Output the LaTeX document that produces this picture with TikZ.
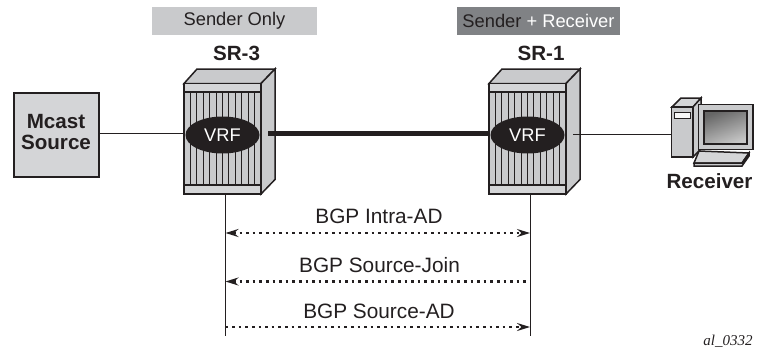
\documentclass[tikz,border=0pt]{standalone}
\usepackage{fontspec}
\setmainfont{Liberation Sans}
\newfontfamily\timesfont{Liberation Serif}
\usetikzlibrary{arrows.meta,shapes.geometric}
\definecolor{ink}{HTML}{231F20}
\definecolor{panel}{HTML}{C9CACC}
\definecolor{bandgray}{HTML}{D4D5D7}
\definecolor{tagdark}{HTML}{808285}
\tikzset{
  x=1pt,y=-1pt,
  every node/.style={text=ink,inner sep=0pt,outer sep=0pt},
  edgeline/.style={draw=ink,line width=1.5pt,line join=miter,fill=panel},
  thinlink/.style={draw=ink,line width=0.9pt},
  heavylink/.style={draw=ink,line width=5pt},
  msglink/.style={draw=ink,line width=2.7pt,dash pattern=on 2.7pt off 3.9pt},
  msgtip/.tip={Stealth[length=13pt,width=8pt,inset=4.5pt,color=ink]},
  tagbox/.style={minimum height=28pt,anchor=north west,font=\fontsize{18.3}{20}\selectfont},
  routername/.style={font=\bfseries\fontsize{20.6}{22}\selectfont},
  msglabel/.style={font=\fontsize{20.8}{22}\selectfont},
  vrfnode/.style={ellipse,fill=ink,minimum width=74pt,minimum height=37pt,text=white,font=\fontsize{18.3}{20}\selectfont},
  frontpanel/.style={edgeline,rectangle,anchor=north west,minimum width=77pt,minimum height=110.5pt},
  router/.pic={
    \path[edgeline] (0,0) -- (13,-14.5) -- (91,-14.5) -- (77,0) -- cycle;
    \path[edgeline] (77,0) -- (91,-14.5) -- (91,96) -- (77,110.5) -- cycle;
    \node[frontpanel] (front) at (0,0) {};
    \path[edgeline,fill=bandgray,line width=1.2pt] (0,0) rectangle (77,8.5);
    \path[edgeline,fill=bandgray,line width=1.2pt] (0,101.5) rectangle (77,110.5);
    \foreach \k in {1,...,11} \draw[ink,line width=0.9pt] (\k*6.4,8.5) -- (\k*6.4,101.5);
  }
}
\begin{document}
\begin{tikzpicture}
\useasboundingbox (0,0) rectangle (757,349);
% tags
\node[tagbox,fill=panel,minimum width=165pt] (tagA) at (152,7) {Sender Only};
\node[tagbox,fill=tagdark,minimum width=163pt] (tagB) at (457,7) {Sender \textcolor{white}{+ Receiver}};
% routers
\pic (sr3) at (184,83.5) {router};
\pic (sr1) at (489,83.5) {router};
\node[routername] (nameA) at (236.5,53.5) {SR-3};
\node[routername] (nameB) at (541,53.5) {SR-1};
\node[vrfnode] (vrfA) at (222.5,135) {VRF};
\node[vrfnode] (vrfB) at (527.5,135) {VRF};
% source
\node[draw=ink,line width=2pt,fill=bandgray,rectangle,minimum width=85pt,minimum height=84pt,anchor=north west,align=center,font=\bfseries\fontsize{20.6}{21}\selectfont] (mcast) at (13.5,93) {Mcast\\Source\rule[-6pt]{0pt}{0pt}};
% receiver PC
\path[edgeline,fill=bandgray] (672,107) -- (681,98) -- (701,98) -- (693,107) -- cycle;
\path[edgeline] (693,107) -- (701,98) -- (701,149) -- (693,157) -- cycle;
\node[edgeline,rectangle,anchor=north west,minimum width=21.5pt,minimum height=50pt] (tower) at (671.5,107) {};
\path[draw=ink,line width=1pt,fill=white!85!panel] (674,112) rectangle (690,118);
\path[edgeline] (698.5,104.5) rectangle (753,149.5);
\path[draw=ink,line width=1.3pt,shade,left color=black!60,right color=black!22,shading angle=20] (704,111) rectangle (747,144);
\path[edgeline,fill=bandgray] (699,151) -- (749,153) -- (742,163) -- (694,163) -- cycle;
\path[edgeline] (694,163) -- (742,163) -- (749,153) -- (749,156) -- (742,166) -- (694,166) -- cycle;
\node[routername] (recv) at (709.5,181) {Receiver};
% links
\coordinate (gapA) at (268,133.5);
\coordinate (gapB) at (573,134);
\draw[thinlink] (mcast.east |- 0,133) -- (sr3front.west |- 0,133);
\draw[heavylink] (gapA) -- (sr1front.west |- gapA);
\draw[thinlink] (gapB) -- (tower.west |- gapB);
% life lines
\coordinate (endA) at (225.5,336);
\coordinate (endB) at (530,336);
\draw[thinlink] (endA |- sr3front.south) -- (endA);
\draw[thinlink] (endB |- sr1front.south) -- (endB);
% messages
\coordinate (m1) at (0,233);
\coordinate (m2) at (0,281.5);
\coordinate (m3) at (0,327);
\draw[msglink,msgtip-msgtip] (endA |- m1) -- (endB |- m1);
\draw[msglink,msgtip-] (endA |- m2) -- (endB |- m2);
\draw[msglink,-msgtip] (endA |- m3) -- (endB |- m3);
\node[msglabel] (l1) at (379,216) {BGP Intra-AD};
\node[msglabel] (l2) at (379.5,265) {BGP Source-Join};
\node[msglabel] (l3) at (379,311) {BGP Source-AD};
\node[font=\timesfont\itshape\fontsize{15}{16}\selectfont] (tagid) at (728,341.5) {al\_0332};
\end{tikzpicture}
\end{document}
